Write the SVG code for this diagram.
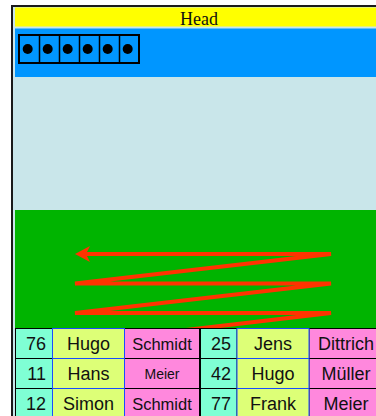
<svg xmlns="http://www.w3.org/2000/svg" width="376" height="416" viewBox="0 0 376 416">
<defs>
<style>
.t{font-family:"Liberation Sans",Arial,sans-serif;font-size:18px;fill:#111}
.s{font-size:16.5px}
.s2{font-size:14px}
.m{text-anchor:middle}
.e{text-anchor:end}
.c1{fill:#7fffd4;stroke:#000;stroke-width:1}
.c2{fill:#ddff77;stroke:#1a4cff;stroke-width:1}
.c3{fill:#ff88dd;stroke:#000;stroke-width:1}
.dot{fill:#000}
</style>
<marker id="ah" viewBox="0 0 16 16" refX="4" refY="8" markerWidth="16" markerHeight="16" markerUnits="userSpaceOnUse" orient="auto">
<path d="M0,0 L15,8 L0,16 L4,8 Z" fill="#ff3300"/>
</marker>
</defs>
<g id="frame">
<rect x="12" y="6" width="380" height="420" fill="#c9e6ea" stroke="#1a1a1a" stroke-width="2"/>
</g>
<g id="head">
<rect x="15" y="7.5" width="369" height="19" fill="#ffff00"/>
<text x="199" y="25" text-anchor="middle" style="font-family:'Liberation Serif','Times New Roman',serif;font-size:18px;fill:#111">Head</text>
</g>
<g id="bluepanel">
<rect x="15" y="28.5" width="369" height="48.5" fill="#0096ff"/>
<rect x="19" y="35" width="120" height="28" fill="none" stroke="#000" stroke-width="2"/>
<path d="M39.5,35V63M59.5,35V63M79.5,35V63M99.5,35V63M119.5,35V63" stroke="#000" stroke-width="1.5"/>
<circle class="dot" cx="27.7" cy="49" r="5"/>
<circle class="dot" cx="47.7" cy="49" r="5"/>
<circle class="dot" cx="67.7" cy="49" r="5"/>
<circle class="dot" cx="87.7" cy="49" r="5"/>
<circle class="dot" cx="107.7" cy="49" r="5"/>
<circle class="dot" cx="127.7" cy="49" r="5"/>
</g>
<g id="greenpanel">
<rect x="15" y="210" width="369" height="118" fill="#00b400"/>
</g>
<g id="connectors">
<polyline points="75,343 331,313 75,313 331,283.5 75,283.5 331,254 86,254" fill="none" stroke="#ff3300" stroke-width="4" stroke-linejoin="miter" marker-end="url(#ah)"/>
</g>
<g id="table-left">
<rect class="c1" x="15.5" y="328.5" width="37" height="30"/>
<rect class="c3" x="124.5" y="328.5" width="75" height="30"/>
<rect class="c2" x="52.5" y="328.5" width="72" height="30"/>
<rect class="c1" x="15.5" y="358.5" width="37" height="30"/>
<rect class="c3" x="124.5" y="358.5" width="75" height="30"/>
<rect class="c2" x="52.5" y="358.5" width="72" height="30"/>
<rect class="c1" x="15.5" y="388.5" width="37" height="30"/>
<rect class="c3" x="124.5" y="388.5" width="75" height="30"/>
<rect class="c2" x="52.5" y="388.5" width="72" height="30"/>
<text class="t e" x="46" y="350">76</text>
<text class="t m" x="88.5" y="350">Hugo</text>
<text class="t m s" x="162" y="350">Schmidt</text>
<text class="t e" x="46" y="380">11</text>
<text class="t m" x="88.5" y="380">Hans</text>
<text class="t m s2" x="162" y="379">Meier</text>
<text class="t e" x="46" y="410">12</text>
<text class="t m" x="88.5" y="410">Simon</text>
<text class="t m s" x="162" y="410">Schmidt</text>
</g>
<g id="table-right">
<rect class="c1" x="200.5" y="328.5" width="36.5" height="30"/>
<rect class="c3" x="309" y="328.5" width="75" height="30"/>
<rect class="c2" x="237" y="328.5" width="72" height="30"/>
<rect class="c1" x="200.5" y="358.5" width="36.5" height="30"/>
<rect class="c3" x="309" y="358.5" width="75" height="30"/>
<rect class="c2" x="237" y="358.5" width="72" height="30"/>
<rect class="c1" x="200.5" y="388.5" width="36.5" height="30"/>
<rect class="c3" x="309" y="388.5" width="75" height="30"/>
<rect class="c2" x="237" y="388.5" width="72" height="30"/>
<text class="t e" x="231" y="350">25</text>
<text class="t m" x="273" y="350">Jens</text>
<text class="t m" x="346" y="350">Dittrich</text>
<text class="t e" x="231" y="380">42</text>
<text class="t m" x="273" y="380">Hugo</text>
<text class="t m" x="346" y="380">Müller</text>
<text class="t e" x="231" y="410">77</text>
<text class="t m" x="273" y="410">Frank</text>
<text class="t m" x="346" y="410">Meier</text>
</g>
<g id="divider">
<path d="M200,328V416" stroke="#000" stroke-width="2"/>
</g>
</svg>
